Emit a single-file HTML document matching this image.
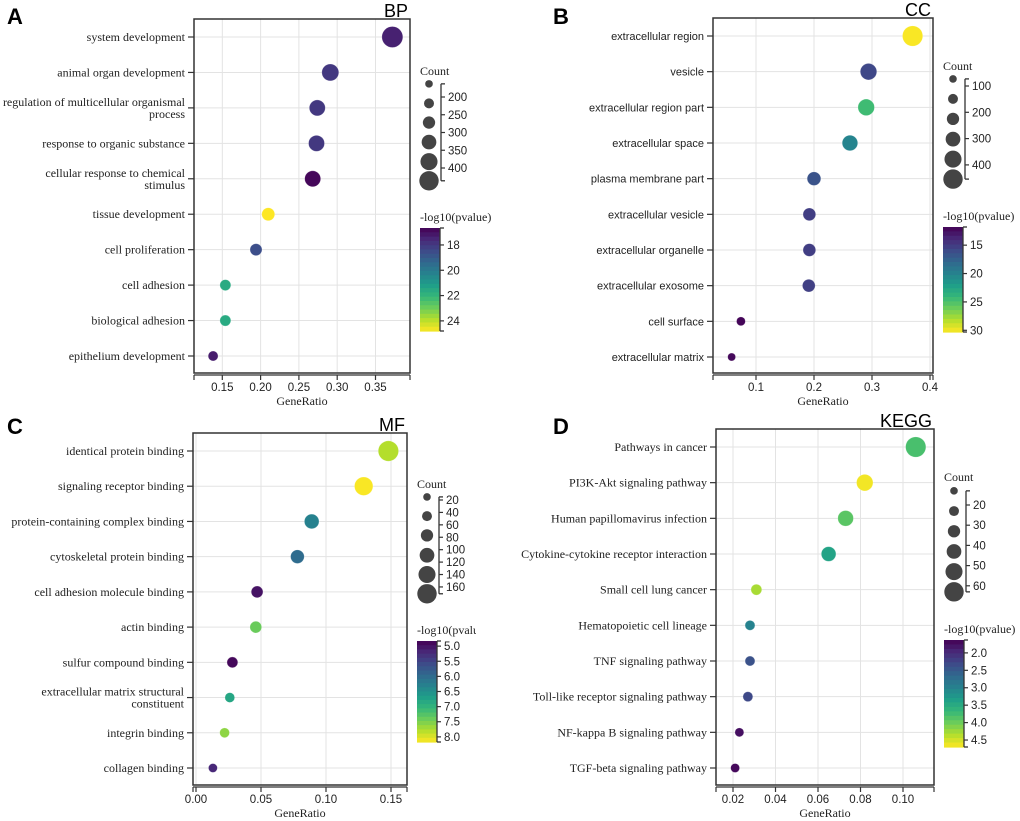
<!DOCTYPE html>
<html><head><meta charset="utf-8">
<style>
html,body{margin:0;padding:0;background:#fff;}
svg{display:block;}
.ser{font-family:"Liberation Serif",serif;}
.sans{font-family:"Liberation Sans",sans-serif;}
</style></head>
<body>
<svg id="fig" width="1020" height="821" viewBox="0 0 1020 821" xmlns="http://www.w3.org/2000/svg">
<defs>
<clipPath id="clipC"><rect x="410" y="615" width="66" height="30"/></clipPath>
</defs>
</svg>
<script>
// ---------- DATA ----------
const bpTerms = ["system development","animal organ development","regulation of multicellular organismal|process","response to organic substance","cellular response to chemical|stimulus","tissue development","cell proliferation","cell adhesion","biological adhesion","epithelium development"];
const bpRatio = [0.372,0.291,0.274,0.273,0.268,0.210,0.194,0.154,0.154,0.138];
const bpCount = [473,380,357,357,357,288,265,242,242,218];
const bpLogP  = [17.4,18.0,18.0,18.0,16.8,24.8,18.6,21.6,21.6,17.3];
const bpXTicks = [0.15,0.20,0.25,0.30,0.35];
const bpXTickLabels = ["0.15","0.20","0.25","0.30","0.35"];
const bpCountTicks = [200,250,300,350,400];
const bpLegendCounts = [163,218,272,327,382,436];
const bpColorTicks = [18,20,22,24];

const ccTerms = ["extracellular region","vesicle","extracellular region part","extracellular space","plasma membrane part","extracellular vesicle","extracellular organelle","extracellular exosome","cell surface","extracellular matrix"];
const ccRatio = [0.370,0.294,0.290,0.262,0.200,0.192,0.192,0.191,0.074,0.058];
const ccCount = [485,362,362,331,270,239,239,239,116,85];
const ccLogP  = [30.2,15.8,24.5,20.2,16.5,15.2,15.2,15.3,12.0,12.2];
const ccXTicks = [0.1,0.2,0.3,0.4];
const ccXTickLabels = ["0.1","0.2","0.3","0.4"];
const ccCountTicks = [100,200,300,400];
const ccLegendCounts = [73,149,225,302,378,454];
const ccColorTicks = [15,20,25,30];

const mfTerms = ["identical protein binding","signaling receptor binding","protein-containing complex binding","cytoskeletal protein binding","cell adhesion molecule binding","actin binding","sulfur compound binding","extracellular matrix structural|constituent","integrin binding","collagen binding"];
const mfRatio = [0.148,0.129,0.089,0.078,0.047,0.046,0.028,0.026,0.022,0.013];
const mfCount = [184,159,108,95,70,70,58,45,45,33];
const mfLogP  = [7.8,8.15,6.3,6.0,5.0,7.4,4.9,6.8,7.6,5.2];
const mfXTicks = [0.00,0.05,0.10,0.15];
const mfXTickLabels = ["0.00","0.05","0.10","0.15"];
const mfCountTicks = [20,40,60,80,100,120,140,160];
const mfLegendCounts = [15,46,77,109,140,171];
const mfColorTicks = [5.0,5.5,6.0,6.5,7.0,7.5,8.0];
const mfColorTickLabels = ["5.0","5.5","6.0","6.5","7.0","7.5","8.0"];

const keggTerms = ["Pathways in cancer","PI3K-Akt signaling pathway","Human papillomavirus infection","Cytokine-cytokine receptor interaction","Small cell lung cancer","Hematopoietic cell lineage","TNF signaling pathway","Toll-like receptor signaling pathway","NF-kappa B signaling pathway","TGF-beta signaling pathway"];
const keggRatio = [0.106,0.082,0.073,0.065,0.031,0.028,0.028,0.027,0.023,0.021];
const keggCount = [67,51,47,43,27,23,23,23,19,19];
const keggLogP  = [3.8,4.65,3.9,3.4,4.3,3.0,2.4,2.3,1.75,1.7];
const keggXTicks = [0.02,0.04,0.06,0.08,0.10];
const keggXTickLabels = ["0.02","0.04","0.06","0.08","0.10"];
const keggCountTicks = [20,30,40,50,60];
const keggLegendCounts = [13,23,33,43,53,63];
const keggColorTicks = [2.0,2.5,3.0,3.5,4.0,4.5];
const keggColorTickLabels = ["2.0","2.5","3.0","3.5","4.0","4.5"];

// ---------- RENDER ----------
const NS="http://www.w3.org/2000/svg";
const svg=document.getElementById('fig');
function mk(tag,attrs,parent,text){const e=document.createElementNS(NS,tag);for(const k in attrs)e.setAttribute(k,attrs[k]);if(text!==undefined)e.textContent=text;(parent||svg).appendChild(e);return e;}
const VIR=[[68,1,84],[72,40,120],[62,74,137],[49,104,142],[38,130,142],[31,158,137],[53,183,121],[109,205,89],[180,222,44],[253,231,37]];
function viridis(t){t=Math.max(0,Math.min(1,t));const s=t*(VIR.length-1);const i=Math.min(VIR.length-2,Math.floor(s));const f=s-i;const c=VIR[i].map((v,k)=>Math.round(v+(VIR[i+1][k]-v)*f));return `rgb(${c[0]},${c[1]},${c[2]})`;}

function panel(p){
  const g=mk('g',{});
  
  
  const xS=v=>p.xA+(v-p.vA)*p.xK;
  const n=p.terms.length;
  const yS=i=>p.r0+i*(p.r1-p.r0)/(n-1);
  const cS=c=>3.8+(c-p.legC[0])/(p.legC[p.legC.length-1]-p.legC[0])*5.9;
  const colT=v=>(v-p.cb.vTop)/(p.cb.vBot-p.cb.vTop);
  const L=mk('text',{x:p.letX,y:p.letY,'font-size':22,'font-weight':'bold',class:'sans'},g,p.letter);
   
  const T=mk('text',{x:p.x1-2,y:p.y0-2,'font-size':18,'text-anchor':'end',class:'sans'},g,p.title);
   
  const grid=mk('g',{stroke:'#e3e3e3','stroke-width':1},g);
   
  p.xt.forEach(v=>mk('line',{x1:xS(v),x2:xS(v),y1:p.y0,y2:p.y1},grid));
  for(let i=0;i<n;i++) mk('line',{x1:p.x0,x2:p.x1,y1:yS(i),y2:yS(i)},grid);
  const B=mk('rect',{x:p.x0,y:p.y0,width:p.x1-p.x0,height:p.y1-p.y0,fill:'none',stroke:'#333','stroke-width':1.5},g);
   
  const xa=mk('g',{},g);
   
  mk('line',{x1:p.x0,x2:p.x1,y1:p.y1+2,y2:p.y1+2,stroke:'#333','stroke-width':1.2},xa);
  mk('line',{x1:p.x0,x2:p.x0,y1:p.y1+2,y2:p.y1+7,stroke:'#333','stroke-width':1.2},xa);
  mk('line',{x1:p.x1,x2:p.x1,y1:p.y1+2,y2:p.y1+7,stroke:'#333','stroke-width':1.2},xa);
  p.xt.forEach((v,i)=>{
    mk('line',{x1:xS(v),x2:xS(v),y1:p.y1+2,y2:p.y1+7,stroke:'#333','stroke-width':1.2},xa);
    const t=mk('text',{x:xS(v),y:p.y1+18,'font-size':11.5,'text-anchor':'middle',class:'sans',fill:'#222'},xa,p.xtl[i]);
     
  });
  const xt=mk('text',{x:(p.x0+p.x1)/2,y:p.y1+32,'font-size':12,'text-anchor':'middle',class:'ser',fill:'#222'},xa,'GeneRatio');
   
  const ya=mk('g',{},g);
   
  p.terms.forEach((s,i)=>{
    const y=yS(i);
    mk('line',{x1:p.x0-6,x2:p.x0,y1:y,y2:y,stroke:'#333','stroke-width':1.2},ya);
    const parts=s.split('|');
    const t=mk('text',{x:p.x0-9,'font-size':p.lfs,'text-anchor':'end',class:p.lfont,fill:'#222'},ya);
     
    parts.forEach((ps,k)=>{mk('tspan',{x:p.x0-9,y:y+4+(parts.length>1?(k===0?-6:6):0)},t,ps);});
  });
  const dots=mk('g',{},g);
   
  p.terms.forEach((s,i)=>{
    const c=mk('circle',{cx:xS(p.ratio[i]),cy:yS(i),r:cS(p.count[i]),fill:viridis(colT(p.logp[i])),stroke:'rgba(255,255,255,0.4)','stroke-width':0.6},dots);
    
    
  });
  const lg=mk('g',{},g);
   
  const lt=mk('text',{x:p.cl.tx,y:p.cl.ty,'font-size':12,class:'ser',fill:'#222'},lg,'Count');
   
  const lyS=c=>p.cl.yA+(c-p.cl.cA)*p.cl.k;
  p.legC.forEach(c=>{
    const cc=mk('circle',{cx:p.cl.cx,cy:lyS(c),r:cS(c),fill:'#444'},lg);
     
  });
  const ax=p.cl.cx+12;
  mk('line',{x1:ax,x2:ax,y1:lyS(p.legC[0]),y2:lyS(p.legC[p.legC.length-1]),stroke:'#333','stroke-width':1.3},lg);
  mk('line',{x1:ax,x2:ax+4,y1:lyS(p.legC[0]),y2:lyS(p.legC[0]),stroke:'#333','stroke-width':1.3},lg);
  mk('line',{x1:ax,x2:ax+4,y1:lyS(p.legC[p.legC.length-1]),y2:lyS(p.legC[p.legC.length-1]),stroke:'#333','stroke-width':1.3},lg);
  p.cticks.forEach(c=>{
    mk('line',{x1:ax,x2:ax+4,y1:lyS(c),y2:lyS(c),stroke:'#333','stroke-width':1.2},lg);
    const t=mk('text',{x:ax+7,y:lyS(c)+4,'font-size':11.5,class:'sans',fill:'#222'},lg,String(c));
     
  });
  const cb=mk('g',{},g);
   
  const ct=mk('text',{x:p.cb.x,y:p.cb.y0-7,'font-size':12,class:'ser',fill:'#222'},cb,'-log10(pvalue)');
  if(p.clip) ct.setAttribute('clip-path','url(#clipC)');
   
  const steps=24,h=(p.cb.y1-p.cb.y0)/steps;
  for(let s=0;s<steps;s++) mk('rect',{x:p.cb.x,y:p.cb.y0+s*h,width:20,height:h+0.6,fill:viridis((s+0.5)/steps)},cb);
  const bx=p.cb.x+20;
  const cyS=v=>p.cb.y0+(v-p.cb.vTop)/(p.cb.vBot-p.cb.vTop)*(p.cb.y1-p.cb.y0);
  mk('line',{x1:bx,x2:bx,y1:p.cb.y0,y2:p.cb.y1,stroke:'#333','stroke-width':1.3},cb);
  mk('line',{x1:bx,x2:bx+4,y1:p.cb.y0,y2:p.cb.y0,stroke:'#333','stroke-width':1.3},cb);
  mk('line',{x1:bx,x2:bx+4,y1:p.cb.y1,y2:p.cb.y1,stroke:'#333','stroke-width':1.3},cb);
  p.cbt.forEach((v,i)=>{
    mk('line',{x1:bx,x2:bx+4,y1:cyS(v),y2:cyS(v),stroke:'#333','stroke-width':1.2},cb);
    const t=mk('text',{x:bx+7,y:cyS(v)+4,'font-size':11.5,class:'sans',fill:'#222'},cb,p.cbtl?p.cbtl[i]:String(v));
     
  });
}

panel({name:'bp',letter:'A',letX:7,letY:24,title:'BP',x0:194,x1:410,y0:19,y1:373,r0:37,r1:356,
  xA:222.3,vA:0.15,xK:766,xt:bpXTicks,xtl:bpXTickLabels,terms:bpTerms,ratio:bpRatio,count:bpCount,logp:bpLogP,
  lfs:12,lfont:'ser',legC:bpLegendCounts,cticks:bpCountTicks,
  cl:{tx:420,ty:75,cx:429,yA:97,cA:200,k:0.355},
  cb:{x:420,y0:228,y1:331,vTop:16.66,vBot:24.8},cbt:bpColorTicks});
panel({name:'cc',letter:'B',letX:553,letY:24,title:'CC',x0:713,x1:933,y0:18,y1:373,r0:36,r1:357,
  xA:756,vA:0.1,xK:580,xt:ccXTicks,xtl:ccXTickLabels,terms:ccTerms,ratio:ccRatio,count:ccCount,logp:ccLogP,
  lfs:11,lfont:'sans',legC:ccLegendCounts,cticks:ccCountTicks,
  cl:{tx:943,ty:70,cx:953,yA:86,cA:100,k:0.263},
  cb:{x:943,y0:227,y1:332,vTop:11.8,vBot:30.3},cbt:ccColorTicks});
panel({name:'mf',letter:'C',letX:7,letY:434,title:'MF',x0:193,x1:407,y0:433,y1:785,r0:451,r1:768,
  xA:196,vA:0,xK:1300,xt:mfXTicks,xtl:mfXTickLabels,terms:mfTerms,ratio:mfRatio,count:mfCount,logp:mfLogP,
  lfs:12,lfont:'ser',legC:mfLegendCounts,cticks:mfCountTicks,
  cl:{tx:417,ty:488,cx:427,yA:500,cA:20,k:0.621},
  cb:{x:417,y0:641,y1:742,vTop:4.83,vBot:8.17},cbt:mfColorTicks,cbtl:mfColorTickLabels,clip:true});
panel({name:'kegg',letter:'D',letX:553,letY:434,title:'KEGG',x0:716,x1:934,y0:429,y1:785,r0:447,r1:768,
  xA:733,vA:0.02,xK:2125,xt:keggXTicks,xtl:keggXTickLabels,terms:keggTerms,ratio:keggRatio,count:keggCount,logp:keggLogP,
  lfs:12,lfont:'ser',legC:keggLegendCounts,cticks:keggCountTicks,
  cl:{tx:944,ty:481,cx:954,yA:505,cA:20,k:2.02},
  cb:{x:944,y0:640,y1:747,vTop:1.63,vBot:4.7},cbt:keggColorTicks,cbtl:keggColorTickLabels});
</script>
</body></html>
